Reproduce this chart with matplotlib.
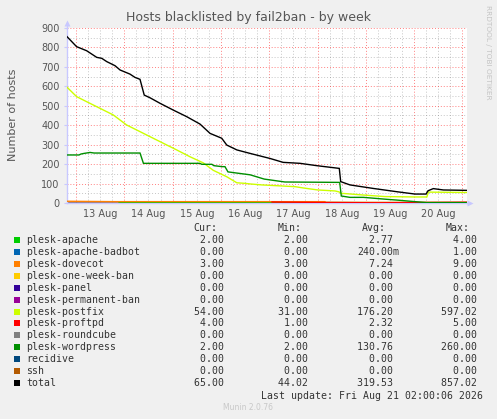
import numpy as np
import matplotlib
matplotlib.use('Agg')
import matplotlib.pyplot as plt
import matplotlib.dates as mdates
from matplotlib.ticker import MultipleLocator, FuncFormatter, NullFormatter
from matplotlib.patches import Rectangle

# ---------------- data (hours since 2026-08-13 00:00, values) ----------------
total_h = [-4.6, 0.3, 5.3, 10.3, 12.8, 15.3, 19.4, 21.9, 26.8, 29.3, 31.8, 33.9, 36.8, 41.7,
           48.3, 55.0, 61.6, 66.6, 72.4, 74.9, 79.9, 86.5, 96.4, 102.9, 111.3, 119.6, 130.8,
           131.5, 136.1, 147.6, 159.4, 168.4, 173.9, 174.9, 177.5, 182.5, 194.0]
total_v = [857, 804, 783, 749, 744, 727, 706, 684, 663, 646, 636, 555, 541, 513,
           478, 444, 406, 358, 333, 298, 273, 255, 229, 209, 204, 192, 178,
           110, 93, 75, 58, 46, 46, 63, 74, 67, 65]

postfix_h = [-4.6, 0.3, 5.3, 11.9, 18.5, 25.2, 31.8, 36.8, 43.4, 50.0, 56.6, 63.3, 68.2,
             74.9, 79.9, 84.0, 86.5, 92.3, 108.8, 113.8, 120.2, 128.7, 130.7, 131.7, 142.8,
             153.5, 168.4, 174.3, 175.1, 194.0]
postfix_v = [597, 547, 521, 487, 453, 401, 367, 341, 307, 273, 238, 206, 168,
             135, 104, 101, 98, 93, 84, 76, 67, 62, 57, 50, 41,
             33, 31, 31, 56, 54]

wordpress_h = [-4.6, 1.5, 2.5, 4.0, 7.0, 9.0, 31.8, 33.5, 61.5, 62.5, 67.5, 68.5, 72.5, 74.0,
               75.5, 80.6, 86.5, 93.5, 103.8, 131.0, 131.8, 136.1, 142.8, 154.3, 159.4,
               168.4, 174.3, 194.0]
wordpress_v = [247, 247, 252, 255, 260, 257, 257, 204, 204, 199, 199, 192, 187, 187,
               160, 153, 145, 123, 108, 106, 36, 29, 29, 19, 15,
               7, 2, 2]

apache_h = [21.4, 60.0, 100.0, 150.0, 194.0]
apache_v = [4, 3, 3, 2, 2]

dovecot_h = [-4.6, 20.0, 123.7, 124.0, 194.0]
dovecot_v = [9, 7, 7, 3, 3]

proftpd_h = [97.4, 120.0, 150.0, 194.0]
proftpd_v = [5, 3, 1, 4]

zero_h = [-4.6, 194.0]
zero_v = [0, 0]

names = ['plesk-apache', 'plesk-apache-badbot', 'plesk-dovecot', 'plesk-one-week-ban',
         'plesk-panel', 'plesk-permanent-ban', 'plesk-postfix', 'plesk-proftpd',
         'plesk-roundcube', 'plesk-wordpress', 'recidive', 'ssh', 'total']
colors = ['#00cc00', '#0066b3', '#ff8000', '#ffcc00', '#330099', '#990099', '#ccff00',
          '#ff0000', '#808080', '#008f00', '#00487d', '#b35a00', '#000000']
cur_vals = [2.00, 0.00, 3.00, 0.00, 0.00, 0.00, 54.00, 4.00, 0.00, 2.00, 0.00, 0.00, 65.00]
min_vals = [2.00, 0.00, 3.00, 0.00, 0.00, 0.00, 31.00, 1.00, 0.00, 2.00, 0.00, 0.00, 44.02]
avg_vals = [2.77, 0.24, 7.24, 0.00, 0.00, 0.00, 176.20, 2.32, 0.00, 130.76, 0.00, 0.00, 319.53]
max_vals = [4.00, 1.00, 9.00, 0.00, 0.00, 0.00, 597.02, 5.00, 0.00, 260.00, 0.00, 0.00, 857.02]

series = {
    'plesk-apache': (apache_h, apache_v),
    'plesk-apache-badbot': (zero_h, zero_v),
    'plesk-dovecot': (dovecot_h, dovecot_v),
    'plesk-one-week-ban': (zero_h, zero_v),
    'plesk-panel': (zero_h, zero_v),
    'plesk-permanent-ban': (zero_h, zero_v),
    'plesk-postfix': (postfix_h, postfix_v),
    'plesk-proftpd': (proftpd_h, proftpd_v),
    'plesk-roundcube': (zero_h, zero_v),
    'plesk-wordpress': (wordpress_h, wordpress_v),
    'recidive': (zero_h, zero_v),
    'ssh': (zero_h, zero_v),
    'total': (total_h, total_v),
}

BASE = np.datetime64('2026-08-13T00:00')


def to_time(hours):
    return BASE + (np.asarray(hours, dtype=float) * 60).round().astype(int).astype('timedelta64[m]')


# ---------------- figure ----------------
W, H = 497, 419
fig = plt.figure(figsize=(W / 100, H / 100), dpi=100, facecolor='#f0f0f0')
ax = fig.add_axes([66.7 / W, (H - 203) / H, 400 / W, 175 / H])
ax.set_facecolor('white')

for name, col in zip(names, colors):
    h, v = series[name]
    z = 1.5 if max(v) == 0 else 2
    ax.plot(to_time(h), v, color=col, lw=1.0, zorder=z, solid_joinstyle='miter')

ax.set_xlim(to_time([-4.62])[0], to_time([194.1])[0])
ax.set_ylim(0, 900)

ax.xaxis.set_major_locator(mdates.DayLocator())
ax.xaxis.set_major_formatter(NullFormatter())
ax.xaxis.set_minor_locator(mdates.HourLocator(byhour=[6, 12, 18]))


def day_label(x, pos):
    d = mdates.num2date(x)
    return d.strftime('%d %b') if d.hour == 12 else ''


ax.xaxis.set_minor_formatter(FuncFormatter(day_label))
ax.yaxis.set_major_locator(MultipleLocator(100))
ax.yaxis.set_minor_locator(MultipleLocator(50))

dot = (0, (1, 2))
ax.grid(which='major', color='#ff0000', alpha=0.5, lw=0.7, ls=dot)
ax.grid(which='minor', color='#808080', alpha=0.45, lw=0.7, ls=dot)
ax.set_axisbelow(True)

ax.tick_params(axis='x', which='both', length=0, labelsize=7, labelcolor='#555555', pad=4)
ax.tick_params(axis='y', which='major', length=2, color='#c8c8ff', labelsize=7,
               labelcolor='#555555', pad=3)
ax.tick_params(axis='y', which='minor', length=0)

for s in ['top', 'right']:
    ax.spines[s].set_visible(False)
for s in ['left', 'bottom']:
    ax.spines[s].set_color('#c8c8ff')
    ax.spines[s].set_linewidth(1.0)
    ax.spines[s].set_zorder(1.8)

axis_col = '#c8c8ff'
ax.plot([0, 0], [1, 1.03], transform=ax.transAxes, color=axis_col, lw=1, clip_on=False)
ax.plot([0], [1.03], marker='^', ms=4, transform=ax.transAxes, color=axis_col, clip_on=False, mec='none')
ax.plot([1, 1.008], [0, 0], transform=ax.transAxes, color=axis_col, lw=1, clip_on=False)
ax.plot([1.008], [0], marker='>', ms=4, transform=ax.transAxes, color=axis_col, clip_on=False, mec='none')


def fx(x):
    return x / W


def fy(y):
    return 1 - y / H


fig.text(fx(249), fy(18), 'Hosts blacklisted by fail2ban - by week', ha='center', va='center',
         fontsize=9, color='#555555', family='DejaVu Sans')
fig.text(fx(13), fy(115), 'Number of hosts', rotation=90, ha='center', va='center',
         fontsize=8, color='#555555')
fig.text(fx(488), fy(5), 'RRDTOOL / TOBI OETIKER', rotation=-90, ha='center', va='top',
         fontsize=5.3, color='#c4c4c4')


# ---------------- legend ----------------
def fmt(v):
    if v != 0 and abs(v) < 1:
        return f'{v * 1000:.2f}m'
    return f'{v:.2f} '


mono = dict(family='DejaVu Sans Mono', fontsize=7.1, color='#333333', va='center')
header_y = 228.3
for txt, xr in [('Cur:', 217), ('Min:', 302), ('Avg:', 386), ('Max:', 470)]:
    fig.text(fx(xr), fy(header_y), txt, ha='right', **mono)

for i, (name, col) in enumerate(zip(names, colors)):
    yc = 239.7 + 11.97 * i
    fig.add_artist(Rectangle((fx(14), fy(yc + 3)), 6 / W, 6 / H, transform=fig.transFigure,
                             facecolor=col, edgecolor='none'))
    fig.text(fx(26), fy(yc), name, ha='left', **mono)
    for vals, xr in [(cur_vals, 230), (min_vals, 314), (avg_vals, 399), (max_vals, 483)]:
        fig.text(fx(xr), fy(yc), fmt(vals[i]), ha='right', **mono)

fig.text(fx(483), fy(395.7), 'Last update: Fri Aug 21 02:00:06 2026', ha='right', **mono)
fig.text(fx(248), fy(407.7), 'Munin 2.0.76', ha='center', va='center', fontsize=5.5,
         color='#c8c8c8')

fig.savefig('out.png', dpi=100, facecolor=fig.get_facecolor())
